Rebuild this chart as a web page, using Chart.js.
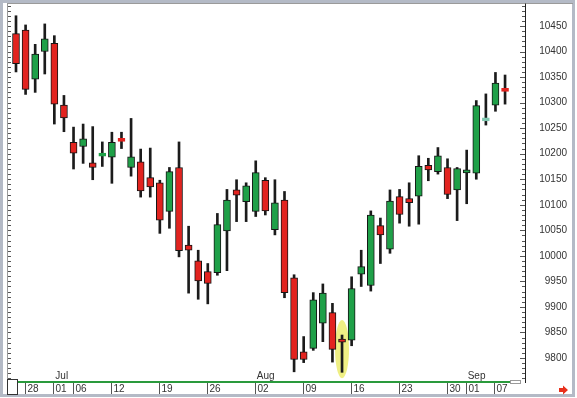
<!DOCTYPE html>
<html>
<head>
<meta charset="utf-8">
<script src="https://cdn.jsdelivr.net/npm/chart.js@4.4.1/dist/chart.umd.min.js"></script>
<style>
  html, body { margin: 0; padding: 0; background: #fff; overflow: hidden; }
  canvas { display: block; }
</style>
</head>
<body>
<canvas id="chartCandle" width="577" height="398" style="width:577px;height:398px"></canvas>
<script>
// =========================================================================
// DATA
// =========================================================================
var dates = ['06-25','06-28','06-29','06-30','07-01','07-02','07-06','07-07','07-08','07-09',
             '07-12','07-13','07-14','07-15','07-16','07-19','07-20','07-21','07-22','07-23',
             '07-26','07-27','07-28','07-29','07-30','08-02','08-03','08-04','08-05','08-06',
             '08-09','08-10','08-11','08-12','08-13','08-16','08-17','08-18','08-19','08-20',
             '08-23','08-24','08-25','08-26','08-27','08-30','08-31','09-01','09-02','09-03',
             '09-07','09-08'];
var opens  = [10435,10442,10346,10400,10416,10295,10222,10214,10182,10197,
              10193,10228,10173,10184,10153,10143,10087,10173,10021,9990,
              9969,9967,10049,10129,10106,10087,10148,10051,10109,9957,
              9812,9819,9868,9889,9837,9835,9964,9942,10059,10013,
              10116,10112,10117,10177,10165,10173,10129,10163,10162,10266,
              10295,10326];
var highs  = [10470,10452,10414,10454,10431,10314,10252,10258,10253,10223,
              10242,10242,10269,10209,10211,10148,10173,10223,10058,10011,
              9985,10083,10130,10149,10143,10186,10153,10149,10126,9963,
              9842,9928,9945,9907,9845,9959,10011,10088,10074,10129,
              10130,10143,10196,10191,10212,10190,10173,10207,10304,10317,
              10359,10354];
var lows   = [10360,10316,10320,10356,10258,10243,10170,10181,10149,10175,
              10142,10210,10156,10115,10115,10044,10054,9998,9927,9915,
              9906,9962,9971,10067,10067,10077,10080,10041,9918,9773,
              9791,9815,9832,9792,9772,9824,9940,9931,9985,10005,
              10064,10058,10062,10147,10160,10112,10069,10102,10150,10256,
              10283,10297];
var closes = [10376,10326,10395,10425,10297,10270,10201,10229,10173,10199,
              10222,10226,10194,10127,10135,10070,10165,10010,10011,9951,
              9946,10061,10109,10119,10137,10163,10088,10104,9928,9797,
              9797,9914,9927,9817,9831,9936,9979,10080,10041,10107,
              10081,10104,10175,10168,10196,10120,10171,10168,10294,10268,
              10338,10324];

var yTicks = [9800, 9850, 9900, 9950, 10000, 10050, 10100, 10150, 10200, 10250, 10300, 10350, 10400, 10450];
var dayLabels = ['28','01','06','12','19','26','02','09','16','23','30','01','07'];
var dayIdx    = [1, 4, 6, 10, 15, 20, 25, 30, 35, 40, 45, 47, 50];
var monthLabels = ['Jul','Aug','Sep'];
var monthIdx    = [4, 25, 47];
var markedIdx = 34;

// =========================================================================
// STYLE
// =========================================================================
var RED = '#e2231f';
var GREEN = '#1fa048';
var FONT = '10px "Liberation Sans", Arial, sans-serif';

var bodies = dates.map(function(d, i) {
    var o = opens[i], c = closes[i];
    if (Math.abs(o - c) < 6) {
        var m = (o + c) / 2;
        return { x: i, y: [m - 3, m + 3] };
    }
    return { x: i, y: [o, c] };
});
var wicks = dates.map(function(d, i) {
    return { x: i, y: [lows[i], highs[i]] };
});
var fillCols = dates.map(function(d, i) {
    if (i === 49) return '#7fc8b0';
    return closes[i] >= opens[i] ? GREEN : RED;
});
var borderCols = dates.map(function(d, i) {
    if (Math.abs(opens[i] - closes[i]) < 6 && i !== 47) return fillCols[i];
    return '#151515';
});

// =========================================================================
// FRAME / AXES PLUGIN
// =========================================================================
var framePlugin = {
    id: 'frame',
    beforeDraw: function(chart) {
        var ctx = chart.ctx;
        ctx.save();
        ctx.fillStyle = '#ffffff';
        ctx.fillRect(0, 0, 577, 398);
        // outer border
        ctx.strokeStyle = '#b4bac6';
        ctx.lineWidth = 3;
        ctx.strokeRect(1.5, 1.5, 572, 394);
        ctx.restore();
    },
    beforeDatasetsDraw: function(chart) {
        var ctx = chart.ctx, xs = chart.scales.x, ys = chart.scales.y;
        var cx = xs.getPixelForValue(markedIdx);
        var top = ys.getPixelForValue(highs[markedIdx]) - 15;
        var bot = ys.getPixelForValue(lows[markedIdx]) + 6;
        ctx.save();
        ctx.fillStyle = 'rgba(236,236,110,0.85)';
        ctx.beginPath();
        ctx.ellipse(cx, (top + bot) / 2, 7, (bot - top) / 2, 0, 0, Math.PI * 2);
        ctx.fill();
        ctx.restore();
    },
    afterDraw: function(chart) {
        var ctx = chart.ctx, xs = chart.scales.x, ys = chart.scales.y;
        var a = chart.chartArea;
        ctx.save();

        // top + left border of plot
        ctx.strokeStyle = '#9a9a9a';
        ctx.lineWidth = 1;
        ctx.beginPath();
        ctx.moveTo(7, 3.5); ctx.lineTo(573, 3.5);
        ctx.moveTo(7.5, 3.5); ctx.lineTo(7.5, 381);
        ctx.stroke();

        // minor ticks, left and right
        ctx.strokeStyle = '#555';
        ctx.beginPath();
        for (var v = 9760; v <= 10490; v += 10) {
            var py = Math.round(ys.getPixelForValue(v)) + 0.5;
            var len = (v % 50 === 0) ? 5 : 3;
            ctx.moveTo(8, py); ctx.lineTo(8 + 3, py);
            ctx.moveTo(a.right, py); ctx.lineTo(a.right - len, py);
        }
        ctx.stroke();

        // right axis line
        ctx.strokeStyle = '#222';
        ctx.beginPath();
        ctx.moveTo(a.right + 0.5, 3.5); ctx.lineTo(a.right + 0.5, 383);
        ctx.stroke();

        // y labels
        ctx.fillStyle = '#333';
        ctx.font = FONT;
        ctx.textAlign = 'right';
        ctx.textBaseline = 'middle';
        yTicks.forEach(function(t) {
            ctx.fillText(String(t), 567, ys.getPixelForValue(t));
        });

        // green time line
        ctx.strokeStyle = '#2a9a3c';
        ctx.lineWidth = 2;
        ctx.beginPath();
        ctx.moveTo(17, 382); ctx.lineTo(510, 382);
        ctx.stroke();
        ctx.lineWidth = 1;
        ctx.strokeStyle = '#9a9a9a';
        ctx.strokeRect(510.5, 380.5, 10, 3);
        ctx.strokeStyle = '#333';
        ctx.strokeRect(7.5, 379.5, 10, 15);

        // day ticks and labels
        ctx.textAlign = 'left';
        ctx.textBaseline = 'middle';
        ctx.fillStyle = '#333';
        ctx.strokeStyle = '#555';
        dayIdx.forEach(function(idx, k) {
            var px = Math.round(xs.getPixelForValue(idx)) - 0.5;
            ctx.beginPath();
            ctx.moveTo(px, 383); ctx.lineTo(px, 394);
            ctx.stroke();
            ctx.fillText(dayLabels[k], px + 2, 389);
        });

        // month labels
        ctx.textBaseline = 'alphabetic';
        monthIdx.forEach(function(idx, k) {
            ctx.fillText(monthLabels[k], xs.getPixelForValue(idx) + 1, 379);
        });

        // red arrow bottom-right
        ctx.fillStyle = '#e8301c';
        ctx.beginPath();
        ctx.moveTo(559, 388); ctx.lineTo(563, 388); ctx.lineTo(563, 385.5);
        ctx.lineTo(568, 390); ctx.lineTo(563, 394.5); ctx.lineTo(563, 392);
        ctx.lineTo(559, 392); ctx.closePath();
        ctx.fill();

        ctx.restore();
    }
};

// =========================================================================
// CHART
// =========================================================================
new Chart(document.getElementById('chartCandle'), {
    type: 'bar',
    data: {
        datasets: [{
            label: 'body',
            data: bodies,
            backgroundColor: fillCols,
            borderColor: borderCols,
            borderWidth: 1,
            borderSkipped: false,
            barThickness: 7,
            grouped: false,
            order: 0
        }, {
            label: 'wick',
            data: wicks,
            backgroundColor: '#1b1b1b',
            borderWidth: 0,
            barThickness: 2,
            grouped: false,
            order: 1
        }]
    },
    options: {
        responsive: false,
        animation: false,
        devicePixelRatio: 1,
        layout: { padding: { left: 9, right: 52, top: 4, bottom: 17 } },
        plugins: { legend: { display: false }, tooltip: { enabled: false } },
        scales: {
            x: { type: 'linear', display: false, offset: false, min: -0.73, max: 53.08 },
            y: { display: false, min: 9755, max: 10493 }
        }
    },
    plugins: [framePlugin]
});
</script>
</body>
</html>
